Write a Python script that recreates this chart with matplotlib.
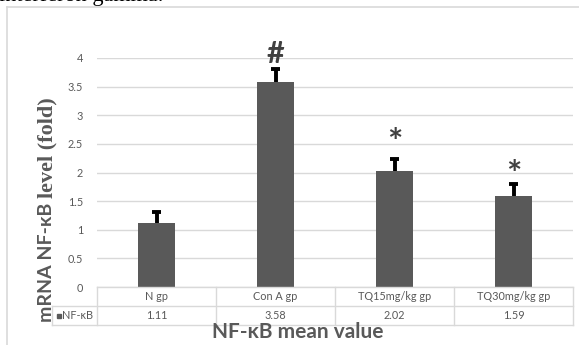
import matplotlib
matplotlib.use("Agg")
import matplotlib.pyplot as plt
from matplotlib.lines import Line2D
from matplotlib.patches import Rectangle

# NF-kB mRNA fold change per group
groups = ["N gp", "Con A gp", "TQ15mg/kg gp", "TQ30mg/kg gp"]
means = [1.11, 3.58, 2.02, 1.59]
errors = [0.20, 0.22, 0.21, 0.21]
marks = ["", "#", "*", "*"]
mark_y = [0, 4.07, 2.62, 2.06]
series_name = "NF-\u03baB"

W, H = 579, 345
fig = plt.figure(figsize=(W / 100, H / 100), dpi=100)
fig.patch.set_facecolor("white")


def fx(x):
    return x / W


def fy(y):
    return 1 - y / H


grid_col = "#d9d9d9"
text_col = "#595959"
sans = ["Lato", "DejaVu Sans"]
serif = ["Liberation Serif", "DejaVu Serif"]

# outer chart frame (only top and left edges are in view)
fig.add_artist(Line2D([fx(7), fx(W)], [fy(7), fy(7)], color=grid_col, lw=1.2))
fig.add_artist(Line2D([fx(7), fx(7)], [fy(7), fy(H)], color=grid_col, lw=1.2))

# caption text cut off at the top edge
fig.text(fx(-1), fy(1.0), "interferon gamma.", family=serif, fontsize=16,
         va="baseline", ha="left", color="black")

left, right, top, base = 97, 573, 58, 287
ax = fig.add_axes([fx(left), fy(base), fx(right - left), (base - top) / H])
x = list(range(len(groups)))
ax.bar(x, means, width=0.31, color="#595959", zorder=3)

# upper-only error bars with a short cap
tops = [m + e for m, e in zip(means, errors)]
ax.vlines(x, means, tops, color="black", lw=2.8, zorder=4)
ax.hlines(tops, [xi - 0.037 for xi in x], [xi + 0.037 for xi in x],
          color="black", lw=2.8, zorder=4)

for xi, m, my in zip(x, marks, mark_y):
    if m == "#":
        ax.text(xi, my, m, ha="center", va="center", fontsize=22,
                fontweight="bold", color="#404040", family=sans, clip_on=False)
    elif m:
        ax.text(xi, my - 0.12, m, ha="center", va="center", fontsize=26,
                fontweight="bold", color="#404040", family=sans, clip_on=False)

ax.set_xlim(-0.5, len(groups) - 0.5)
ax.set_ylim(0, 4)
ax.set_yticks([0, 0.5, 1, 1.5, 2, 2.5, 3, 3.5, 4])
ax.set_yticklabels(["0", "0.5", "1", "1.5", "2", "2.5", "3", "3.5", "4"])
ax.set_xticks([])
ax.tick_params(axis="y", length=0, pad=10, labelsize=7.8, labelcolor=text_col)
for lbl in ax.get_yticklabels():
    lbl.set_family(sans)
ax.yaxis.grid(True, color=grid_col, lw=1, zorder=0)
for s in ax.spines.values():
    s.set_visible(False)

# data table under the axis
col_w = (right - left) / len(groups)
row1, row2, row3 = 287, 306, 325
tab_left = 52


def hline(x0, x1, y):
    fig.add_artist(Line2D([fx(x0), fx(x1)], [fy(y), fy(y)], color=grid_col, lw=1))


def vline(xp, y0, y1):
    fig.add_artist(Line2D([fx(xp), fx(xp)], [fy(y0), fy(y1)], color=grid_col, lw=1))


hline(left, right, row1)
hline(tab_left, right, row2)
hline(tab_left, right, row3)
vline(tab_left, row2, row3)
for i in range(len(groups) + 1):
    vline(left + i * col_w, row1, row3)
for i, (g, v) in enumerate(zip(groups, means)):
    cx = left + (i + 0.5) * col_w
    fig.text(fx(cx), fy((row1 + row2) / 2), g, ha="center", va="center",
             fontsize=7.8, color=text_col, family=sans)
    fig.text(fx(cx), fy((row2 + row3) / 2), f"{v:.2f}", ha="center", va="center",
             fontsize=7.8, color=text_col, family=sans)
fig.add_artist(Rectangle((fx(57), fy(318)), 4 / W, 4 / H,
                         transform=fig.transFigure, color="#595959"))
fig.text(fx(62), fy((row2 + row3) / 2), series_name, ha="left", va="center",
         fontsize=7.8, color=text_col, family=sans)

# axis titles
fig.text(fx(298), fy(332), "NF-\u03baB mean value", ha="center", va="center",
         fontsize=15, fontweight="bold", color=text_col, family=sans)
fig.text(fx(47), fy(322), "mRNA NF-\u03baB", ha="center", va="bottom",
         rotation=90, fontsize=14, fontweight="bold", color=text_col, family=sans)
fig.text(fx(47), fy(198), "level (fold)", ha="center", va="bottom",
         rotation=90, fontsize=16, fontweight="bold", color=text_col, family=serif)

fig.savefig("out.png", dpi=100)
